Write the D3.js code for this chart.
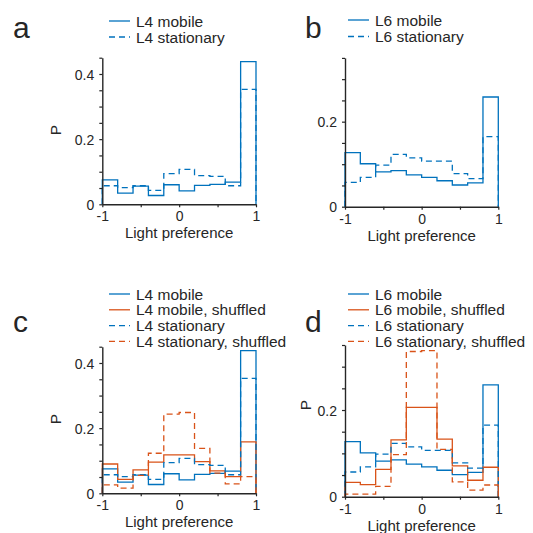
<!DOCTYPE html>
<html><head><meta charset="utf-8">
<script src="https://cdn.jsdelivr.net/npm/d3@7"></script>
<style>
body{margin:0;background:#fff;}
text{font-family:Arial,"Liberation Sans",Helvetica,sans-serif;fill:#262626;}
</style></head>
<body><svg id="c" width="533" height="533"></svg>
<script>
// ---- data ----
const binEdges = [-1,-0.8,-0.6,-0.4,-0.2,0,0.2,0.4,0.6,0.8,1];
const L4_mobile = [0.075,0.034,0.056,0.027,0.060,0.041,0.058,0.061,0.068,0.438];
const L4_stationary = [0.057,0.051,0.057,0.043,0.094,0.107,0.088,0.086,0.057,0.353];
const L4_mobile_shuffled = [0.090,0.043,0.072,0.096,0.118,0.118,0.097,0.069,0.051,0.158];
const L4_stationary_shuffled = [0.026,0.016,0.055,0.123,0.243,0.248,0.138,0.062,0.029,0.051];
const L6_mobile = [0.127,0.101,0.082,0.085,0.075,0.069,0.061,0.051,0.056,0.258];
const L6_stationary = [0.057,0.069,0.098,0.123,0.115,0.107,0.107,0.078,0.066,0.165];
const L6_mobile_shuffled = [0.033,0.028,0.063,0.131,0.206,0.206,0.133,0.071,0.038,0.068];
const L6_stationary_shuffled = [0.006,0.006,0.024,0.097,0.335,0.337,0.109,0.034,0.015,0.027];
const xTickValues = [-1,-0.5,0,0.5,1];
const xTickLabels = ["-1","","0","","1"];
const L4yTicks = [0,0.05,0.1,0.15,0.2,0.25,0.3,0.35,0.4,0.45];
const L4yLabels = ["0","","","","0.2","","","","0.4",""];
const L6yTicks = [0,0.05,0.1,0.15,0.2,0.25,0.3,0.35];
const L6yLabels = ["0","","","","0.2","","",""];

const BLUE = "#0072BD", ORANGE = "#D95319", DASH = "6,4";
const svg = d3.select("#c");

function panel(opt){
  const x = d3.scaleLinear().domain([-1,1]).range([opt.x0,opt.x1]);
  const y = d3.scaleLinear().domain([0,opt.ymax]).range([opt.y0,opt.yTop]);
  const g = svg.append("g");
  // series
  opt.series.forEach(s=>{
    const pts = [[binEdges[0],0]];
    s.values.forEach((v,i)=>{pts.push([binEdges[i],v]);pts.push([binEdges[i+1],v]);});
    pts.push([binEdges[binEdges.length-1],0]);
    g.append("path").attr("d",d3.line().x(d=>x(d[0])).y(d=>y(d[1]))(pts))
      .attr("fill","none").attr("stroke",s.color).attr("stroke-width",1.3)
      .attr("stroke-dasharray",s.dash?DASH:null);
  });
  // axes
  const xa = d3.axisBottom(x).tickValues(xTickValues).tickSize(3).tickSizeOuter(0)
    .tickFormat((d,i)=>xTickLabels[i]);
  const gx = g.append("g").attr("transform",`translate(0,${opt.y0})`).call(xa);
  const ya = d3.axisLeft(y).tickValues(opt.yTicks).tickSize(3).tickSizeOuter(0)
    .tickFormat((d,i)=>opt.yLabels[i]);
  const gy = g.append("g").attr("transform",`translate(${opt.x0},0)`).call(ya);
  [gx,gy].forEach(a=>{
    a.select(".domain").attr("stroke","#262626").attr("stroke-width",1.4);
    a.selectAll(".tick line").attr("stroke","#262626").attr("stroke-width",1.2);
    a.selectAll(".tick text").attr("font-size",14).attr("fill","#262626")
      .attr("font-family","Arial, 'Liberation Sans', sans-serif");
  });
  gx.selectAll(".tick text").attr("dy",null).attr("y",17);
  gy.selectAll(".tick text").attr("x",-8).attr("dy","0.36em");
  g.append("text").attr("x",(opt.x0+opt.x1)/2).attr("y",opt.y0+34)
    .attr("text-anchor","middle").attr("font-size",15).text("Light preference");
  if(opt.showP){
    g.append("text").attr("transform",`translate(${opt.pX},${opt.pY}) rotate(-90)`)
      .attr("text-anchor","middle").attr("font-size",15.5).text("P");
  }
  g.append("text").attr("x",opt.letterX).attr("y",opt.letterY)
    .attr("font-size",30).text(opt.letter);
  // legend
  opt.series.forEach((s,i)=>{
    const ly = opt.legY + i*opt.legStep;
    g.append("line").attr("x1",opt.legX).attr("x2",opt.legX+21).attr("y1",ly).attr("y2",ly)
      .attr("stroke",s.color).attr("stroke-width",1.3).attr("stroke-dasharray",s.dash?DASH:null);
    g.append("text").attr("x",opt.legX+27).attr("y",ly+5.5).attr("font-size",15.5).text(s.name);
  });
}

panel({x0:102.3,x1:256,y0:204.3,yTop:57.7,ymax:0.45,yTicks:L4yTicks,yLabels:L4yLabels,
  showP:true,pX:61,pY:130,letter:"a",letterX:13,letterY:38,legX:109,legY:21,legStep:16,
  series:[{name:"L4 mobile",values:L4_mobile,color:BLUE,dash:false},
          {name:"L4 stationary",values:L4_stationary,color:BLUE,dash:true}]});
panel({x0:345,x1:498.3,y0:206.7,yTop:57.9,ymax:0.35,yTicks:L6yTicks,yLabels:L6yLabels,
  showP:false,letter:"b",letterX:305,letterY:38,legX:348,legY:20,legStep:16.5,
  series:[{name:"L6 mobile",values:L6_mobile,color:BLUE,dash:false},
          {name:"L6 stationary",values:L6_stationary,color:BLUE,dash:true}]});
panel({x0:102.3,x1:256,y0:493.3,yTop:346.7,ymax:0.45,yTicks:L4yTicks,yLabels:L4yLabels,
  showP:true,pX:61,pY:419,letter:"c",letterX:13,letterY:332,legX:109,legY:294,legStep:15.8,
  series:[{name:"L4 mobile",values:L4_mobile,color:BLUE,dash:false},
          {name:"L4 mobile, shuffled",values:L4_mobile_shuffled,color:ORANGE,dash:false},
          {name:"L4 stationary",values:L4_stationary,color:BLUE,dash:true},
          {name:"L4 stationary, shuffled",values:L4_stationary_shuffled,color:ORANGE,dash:true}]});
panel({x0:345,x1:498.3,y0:496.7,yTop:345,ymax:0.35,yTicks:L6yTicks,yLabels:L6yLabels,
  showP:true,pX:311,pY:405,letter:"d",letterX:305,letterY:332,legX:348,legY:294,legStep:15.8,
  series:[{name:"L6 mobile",values:L6_mobile,color:BLUE,dash:false},
          {name:"L6 mobile, shuffled",values:L6_mobile_shuffled,color:ORANGE,dash:false},
          {name:"L6 stationary",values:L6_stationary,color:BLUE,dash:true},
          {name:"L6 stationary, shuffled",values:L6_stationary_shuffled,color:ORANGE,dash:true}]});
</script></body></html>
